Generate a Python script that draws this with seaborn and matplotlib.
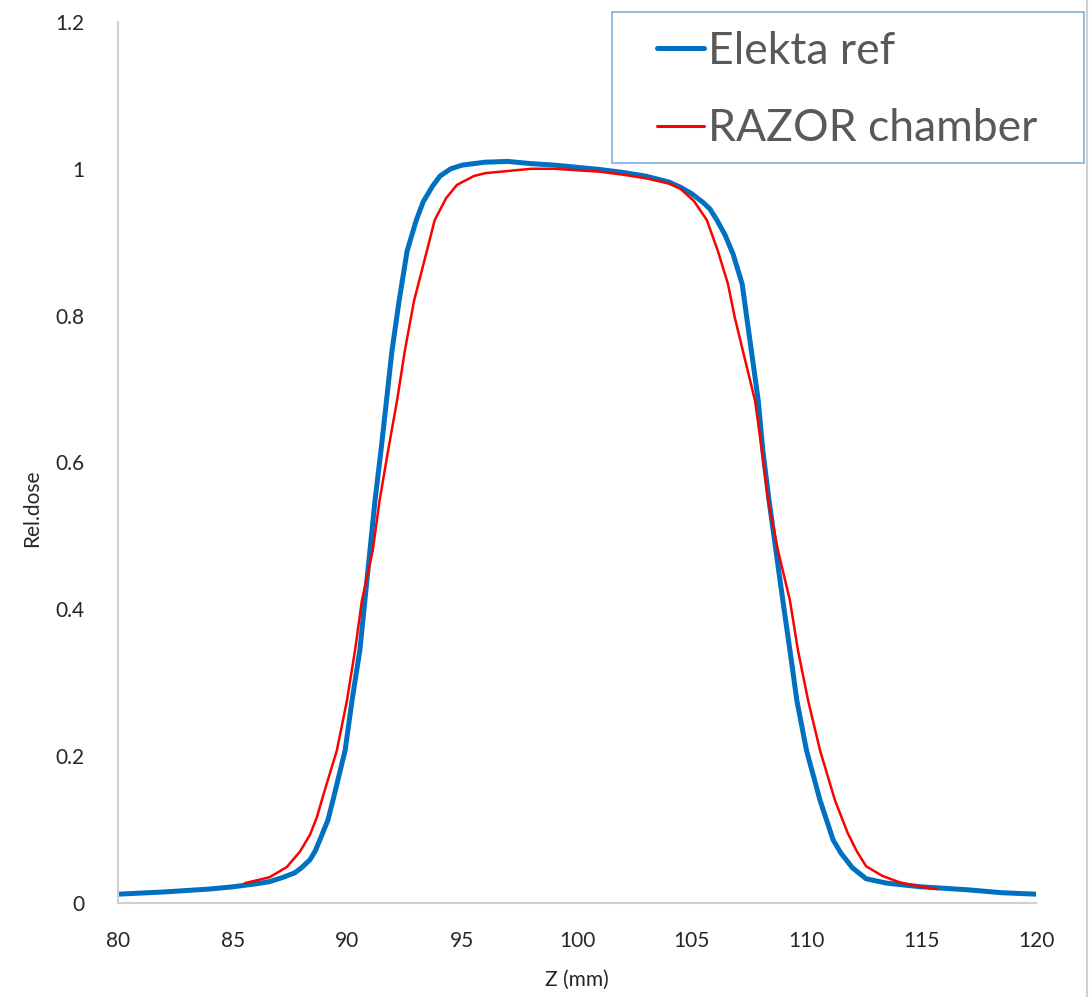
import numpy as np
import pandas as pd
import matplotlib
matplotlib.use("Agg")
import matplotlib.pyplot as plt
from matplotlib.lines import Line2D
from matplotlib.patches import Rectangle
import seaborn as sns

# Elekta reference profile (Z in mm, relative dose)
elekta_z = [80, 82, 84, 85, 86, 86.6, 87.2, 87.7, 88.0, 88.37, 88.6, 88.8, 89.15, 89.37,
            89.9, 90.2, 90.54, 90.76, 90.98, 91.2, 91.46, 91.7, 91.94, 92.25, 92.6, 93.0,
            93.3, 93.7, 94.03, 94.5, 95, 96, 97, 98, 99, 100, 101, 102, 103, 104, 104.5,
            105, 105.5, 105.8, 106.1, 106.45, 106.8, 107.2, 107.4, 107.6, 107.9, 108.1,
            108.37, 108.67, 108.97, 109.28, 109.58, 110.0, 110.59, 111.16, 111.5, 112.0,
            112.6, 113.5, 115, 117, 118.5, 120]
elekta_dose = [0.012, 0.015, 0.019, 0.022, 0.026, 0.029, 0.035, 0.041, 0.048, 0.059, 0.071,
               0.086, 0.113, 0.14, 0.208, 0.276, 0.344, 0.412, 0.48, 0.548, 0.616, 0.684,
               0.752, 0.82, 0.888, 0.93, 0.955, 0.976, 0.99, 1.0, 1.005, 1.009, 1.01,
               1.007, 1.005, 1.002, 0.999, 0.995, 0.99, 0.982, 0.975, 0.966, 0.954, 0.945,
               0.93, 0.91, 0.884, 0.843, 0.797, 0.752, 0.684, 0.616, 0.548, 0.48, 0.412,
               0.344, 0.276, 0.208, 0.14, 0.086, 0.068, 0.048, 0.033, 0.027, 0.022, 0.018,
               0.014, 0.012]

# RAZOR chamber profile
razor_z = [85.53, 86.6, 87.36, 87.93, 88.37, 88.67, 88.93, 89.54, 89.98, 90.33, 90.63,
           91.1, 91.4, 91.77, 92.16, 92.5, 92.9, 93.46, 93.8, 94.3, 94.77, 95.5, 96, 97,
           98, 99, 100, 101, 102, 103, 104, 104.5, 105.1, 105.66, 106.14, 106.58, 106.88,
           107.23, 107.76, 108.06, 108.33, 108.76, 109.28, 109.63, 110.07, 110.59, 111.24,
           111.8, 112.2, 112.6, 113.3, 114.07, 115, 115.7]
razor_dose = [0.027, 0.035, 0.049, 0.07, 0.093, 0.117, 0.145, 0.208, 0.276, 0.344, 0.412,
              0.48, 0.548, 0.616, 0.684, 0.752, 0.82, 0.888, 0.93, 0.96, 0.978, 0.99,
              0.994, 0.997, 1.0, 1.0, 0.998, 0.996, 0.992, 0.987, 0.98, 0.973, 0.956,
              0.93, 0.888, 0.843, 0.797, 0.752, 0.684, 0.616, 0.548, 0.48, 0.412, 0.344,
              0.276, 0.208, 0.14, 0.095, 0.07, 0.05, 0.037, 0.028, 0.022, 0.019]

x_ticks = [80, 85, 90, 95, 100, 105, 110, 115, 120]
y_ticks = [0, 0.2, 0.4, 0.6, 0.8, 1.0, 1.2]
y_tick_labels = ["0", "0.2", "0.4", "0.6", "0.8", "1", "1.2"]

W, H = 1092, 997

sns.set_theme(style="white")
plt.rcParams["font.family"] = ["Lato", "DejaVu Sans"]

fig = plt.figure(figsize=(W / 100, H / 100), dpi=100)
ax = fig.add_axes([0.108, 0.0943, 0.8407, 0.8837])

elekta = pd.DataFrame({"z": elekta_z, "dose": elekta_dose})
razor = pd.DataFrame({"z": razor_z, "dose": razor_dose})

sns.lineplot(data=elekta, x="z", y="dose", sort=False, color="#0070C0", linewidth=3.6,
             ax=ax, label="Elekta ref")
sns.lineplot(data=razor, x="z", y="dose", sort=False, color="#FF0000", linewidth=1.8,
             ax=ax, label="RAZOR chamber")

ax.set_xlim(80, 120)
ax.set_ylim(0, 1.2)
ax.set_xticks(x_ticks)
ax.set_xticklabels([str(t) for t in x_ticks])
ax.set_yticks(y_ticks)
ax.set_yticklabels(y_tick_labels)
ax.tick_params(axis="both", length=0, labelsize=15, labelcolor="#262626")
ax.tick_params(axis="x", pad=20)
ax.tick_params(axis="y", pad=24)

for side in ["top", "right"]:
    ax.spines[side].set_visible(False)
for side in ["left", "bottom"]:
    ax.spines[side].set_color("#D0D0D0")
    ax.spines[side].set_linewidth(1.5)

ax.set_xlabel("Z (mm)", fontsize=15, color="#262626", labelpad=14)
ax.set_ylabel("Rel.dose", fontsize=15, color="#262626")
ax.yaxis.set_label_coords(-0.083, 0.448)

# legend box drawn separately so its size matches the screenshot
ax.add_patch(Rectangle((612 / W, 1 - 163 / H), (1084 - 612) / W, (163 - 12) / H,
                       transform=fig.transFigure, facecolor="white", clip_on=False,
                       edgecolor="#7FAEDB", linewidth=1.2, zorder=5))
leg = ax.legend(loc="upper left", bbox_to_anchor=(657 / W, 1 - 31 / H),
                bbox_transform=fig.transFigure, fontsize=32, frameon=False,
                handlelength=1.05, handletextpad=0.1, borderpad=0, labelspacing=0.82,
                borderaxespad=0)
leg.set_zorder(6)
for txt in leg.get_texts():
    txt.set_color("#595959")
leg.get_lines()[1].set_linewidth(2.2)

# thin grey border at right edge of the screenshot
fig.add_artist(Line2D([1087 / W, 1087 / W], [0, 1], transform=fig.transFigure,
                      color="#D0D0D0", linewidth=1.5))

fig.savefig("out.png", dpi=100)
